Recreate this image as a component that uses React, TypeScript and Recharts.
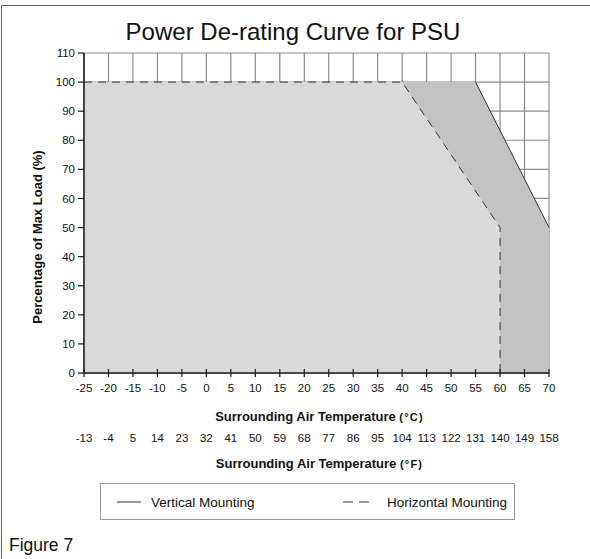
import React from 'react';
import { ComposedChart, Area, Line, XAxis, YAxis, CartesianGrid, Label } from 'recharts';

const tempC = [-25, -20, -15, -10, -5, 0, 5, 10, 15, 20, 25, 30, 35, 40, 45, 50, 55, 60, 65, 70];
const tempF = ['-13', '-4', '5', '14', '23', '32', '41', '50', '59', '68', '77', '86', '95', '104', '113', '122', '131', '140', '149', '158'];
const loadTicks = [0, 10, 20, 30, 40, 50, 60, 70, 80, 90, 100, 110];

// vertical mounting curve
const verticalTemp = [-25, 55, 70];
const verticalLoad = [100, 100, 50];
// horizontal mounting curve
const horizontalTemp = [-25, 40, 60, 60];
const horizontalLoad = [100, 100, 50, 0];

const FONT = '"Liberation Sans", Arial, sans-serif';
const INK = '#1a1a1a';

const verticalData = verticalTemp.map((temp, i) => ({ temp, load: verticalLoad[i] }));
const horizontalData = horizontalTemp.map((temp, i) => ({ temp, load: horizontalLoad[i] }));
// the solid line is only visible where it leaves the 100% plateau
const verticalSlope = verticalData.slice(1);

// °C tick crosses the axis, °F label sits underneath in a second row
const TempTick = (props: any) => {
  const { x, y, payload } = props;
  const i = tempC.indexOf(payload.value);
  return (
    <g>
      <line x1={x} x2={x} y1={y - 4} y2={y + 4} stroke={INK} strokeWidth={1.2} />
      <text x={x} y={y + 19} textAnchor="middle" fontSize={11.5} fontFamily={FONT} fill="#111">
        {payload.value}
      </text>
      <text x={x} y={y + 69} textAnchor="middle" fontSize={11.5} fontFamily={FONT} fill="#111">
        {tempF[i]}
      </text>
    </g>
  );
};

const titleLine = (x: number, y: number, unit: string) => (
  <text x={x} y={y} textAnchor="middle" fontFamily={FONT} fontWeight="bold" fill="#111">
    <tspan fontSize={13}>Surrounding Air  Temperature </tspan>
    <tspan fontSize={11} letterSpacing={1.2}>({unit})</tspan>
  </text>
);

const xTitles = (props: any) => {
  const vb = props.viewBox;
  const cx = vb.x + vb.width / 2 + 3;
  return (
    <g>
      {titleLine(cx, vb.y + 48, '°C')}
      {titleLine(cx, vb.y + 95, '°F')}
    </g>
  );
};

const yTitle = () => (
  <text
    x={42}
    y={237}
    transform="rotate(-90 42 237)"
    textAnchor="middle"
    fontFamily={FONT}
    fontWeight="bold"
    fontSize={13}
    fill="#111"
  >
    Percentage of Max Load (%)
  </text>
);

export default function App() {
  return (
    <div
      style={{
        position: 'absolute',
        left: 0,
        top: 0,
        width: 590,
        height: 559,
        background: '#fff',
        fontFamily: FONT,
        overflow: 'hidden',
      }}
    >
      <div
        style={{
          position: 'absolute',
          left: 1,
          top: 5,
          width: 589,
          height: 554,
          borderTop: '1px solid #666',
          borderLeft: '1px solid #666',
        }}
      />
      <div
        style={{
          position: 'absolute',
          left: 0,
          top: 20,
          width: 586,
          textAlign: 'center',
          fontSize: 24,
          lineHeight: '24px',
          color: '#111',
        }}
      >
        Power De-rating Curve for PSU
      </div>

      <div style={{ position: 'absolute', left: 0, top: 0 }}>
        <ComposedChart width={590} height={559} margin={{ top: 53, right: 41, left: 24, bottom: 80 }}>
          <CartesianGrid stroke="#8a8a8a" strokeWidth={1.2} />
          <Area
            data={verticalData}
            dataKey="load"
            type="linear"
            fill="#c1c2c1"
            fillOpacity={1}
            stroke="none"
            isAnimationActive={false}
          />
          <Area
            data={horizontalData}
            dataKey="load"
            type="linear"
            fill="#d9d9d9"
            fillOpacity={1}
            stroke="none"
            isAnimationActive={false}
          />
          <Line
            data={verticalSlope}
            dataKey="load"
            type="linear"
            stroke="#333"
            strokeWidth={1}
            dot={false}
            isAnimationActive={false}
          />
          <Line
            data={horizontalData}
            dataKey="load"
            type="linear"
            stroke="#333"
            strokeWidth={1}
            strokeDasharray="8 6"
            dot={false}
            isAnimationActive={false}
          />
          <XAxis
            dataKey="temp"
            type="number"
            domain={[-25, 70]}
            ticks={tempC}
            interval={0}
            height={106}
            tickSize={0}
            tickMargin={0}
            tickLine={false}
            axisLine={{ stroke: INK, strokeWidth: 1.5 }}
            tick={<TempTick />}
          >
            <Label content={xTitles} />
          </XAxis>
          <YAxis
            type="number"
            domain={[0, 110]}
            ticks={loadTicks}
            interval={0}
            width={60}
            tickSize={6}
            tickMargin={3}
            axisLine={{ stroke: INK, strokeWidth: 1.5 }}
            tickLine={{ stroke: INK, strokeWidth: 1.2 }}
            tick={{ fontSize: 11.5, fontFamily: FONT, fill: '#111' }}
          >
            <Label content={yTitle} />
          </YAxis>
        </ComposedChart>
      </div>

      <div
        style={{
          position: 'absolute',
          left: 100,
          top: 483,
          width: 413,
          height: 35,
          border: '1px solid #999',
        }}
      >
        <svg width={413} height={35} style={{ position: 'absolute', left: 0, top: 0 }}>
          <line x1={16} x2={40} y1={18} y2={18} stroke="#333" strokeWidth={1} />
          <text x={50} y={23} fontSize={13.5} fontFamily={FONT} fill="#111">Vertical Mounting</text>
          <line x1={242} x2={268} y1={18} y2={18} stroke="#333" strokeWidth={1} strokeDasharray="10 6" />
          <text x={286} y={23} fontSize={13.5} fontFamily={FONT} fill="#111">Horizontal Mounting</text>
        </svg>
      </div>

      <div
        style={{
          position: 'absolute',
          left: 9,
          top: 536,
          fontSize: 17.5,
          lineHeight: '18px',
          color: '#111',
        }}
      >
        Figure 7
      </div>
    </div>
  );
}
